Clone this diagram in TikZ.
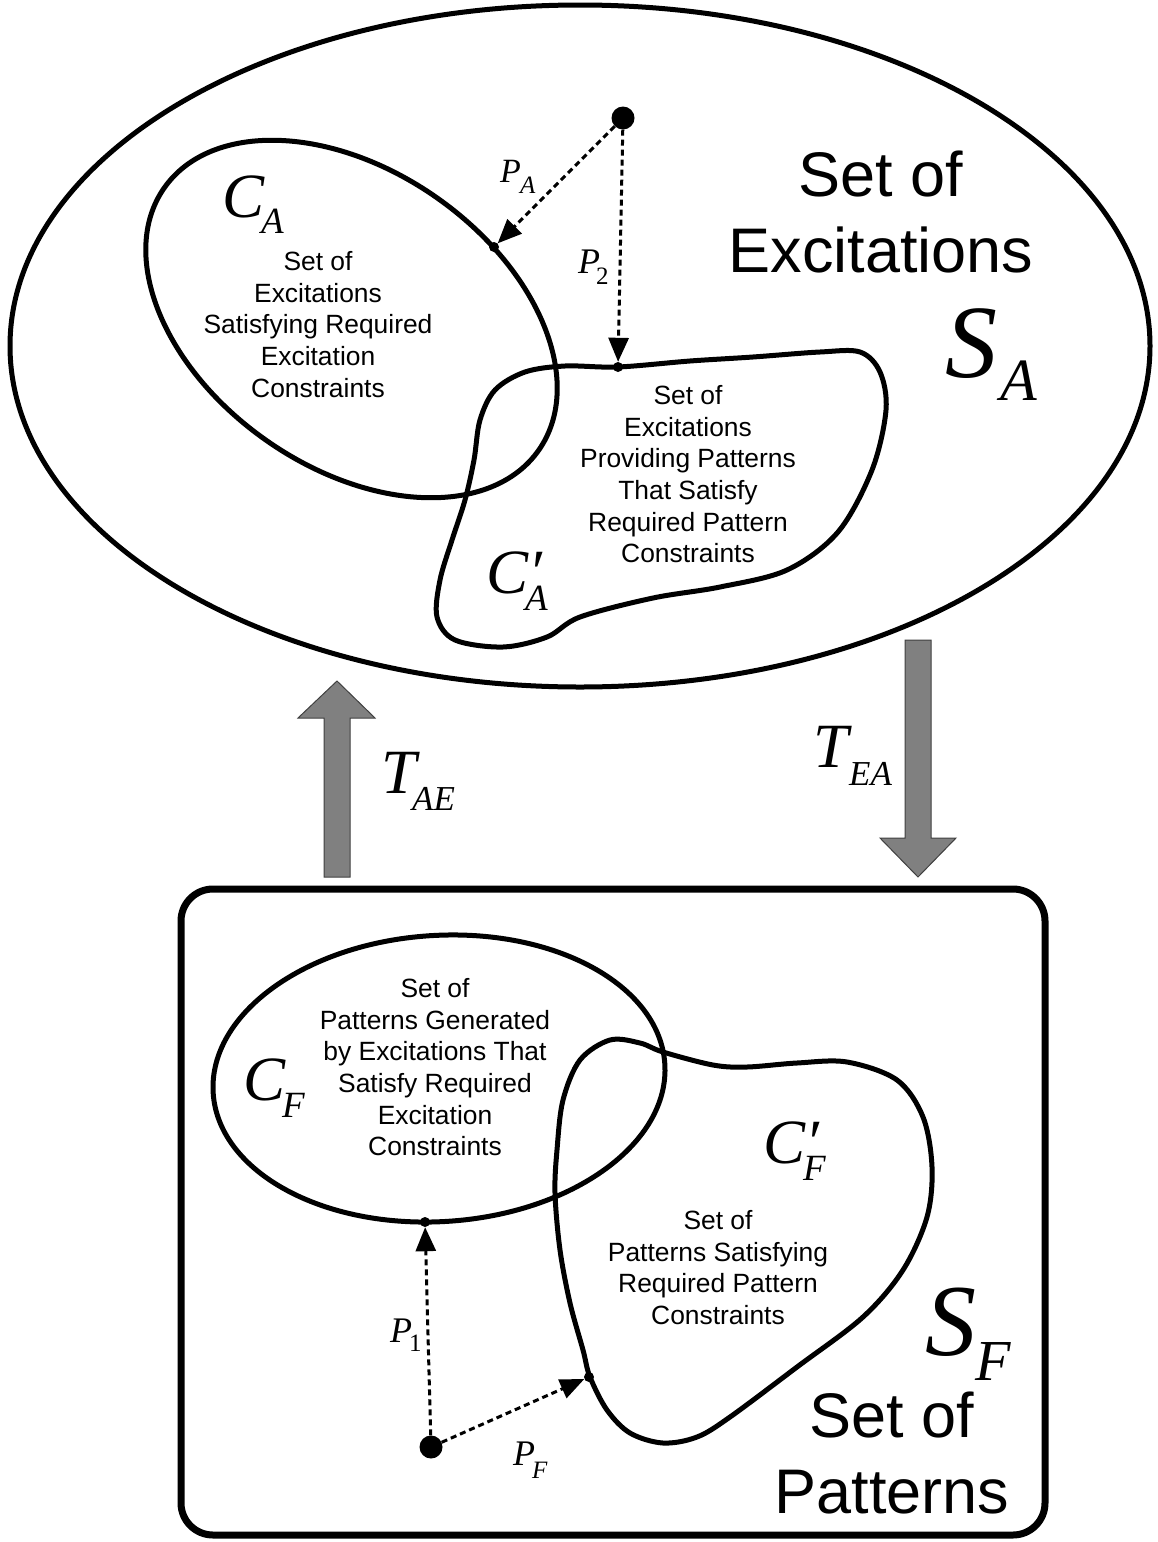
\documentclass[tikz,border=0pt]{standalone}
\usepackage{fontspec}
\setmainfont{Liberation Sans}
\newfontfamily\tnr{Liberation Serif}
\usetikzlibrary{arrows.meta}
\definecolor{blockgray}{HTML}{808080}
\definecolor{blockedge}{HTML}{404040}
\begin{document}
\begin{tikzpicture}[x=1pt,y=-1pt,
  curve/.style={line width=5pt, line join=round},
  settext/.style={align=center, inner sep=0pt, anchor=north, font=\fontsize{26.4}{31.7}\selectfont},
  bigtext/.style={align=center, inner sep=0pt, anchor=north, font=\fontsize{63}{76}\selectfont},
  sym/.style={anchor=base west, inner sep=0pt, font=\tnr\itshape\fontsize{#1}{#1}\selectfont},
  symup/.style={anchor=base west, inner sep=0pt, font=\tnr\fontsize{#1}{#1}\selectfont},
  bigdot/.style={circle, fill=black, inner sep=0pt, minimum size=23pt},
  hitdot/.style={circle, fill=black, inner sep=0pt, minimum size=10pt},
  pathline/.style={line width=3pt, dash pattern=on 6pt off 4pt, -{Triangle[length=24pt,width=20pt]}},
  blockarrow/.style={fill=blockgray, draw=blockedge, line width=1pt, line join=miter}
]
\useasboundingbox (0,0) rectangle (1158,1542);

% ---------- top: set of excitations ----------
\draw[curve] (580,346) ellipse [x radius=570, y radius=341];
\draw[curve, rotate around={-35:(351.5,319)}] (351.5,319) ellipse [x radius=228.6, y radius=148.3];
\draw[curve] plot[smooth cycle, tension=0.55] coordinates {
  (618,367) (690,361) (753,357) (820,352) (860,352) (880,372) (886,410)
  (872,470) (838,532) (787,570) (720,587) (653,598) (580,617) (547,637)
  (503,647) (455,640) (437,617) (440,580) (452,540) (465,500) (474,460)
  (480,420) (495,390) (525,372) (565,366)};

\node[bigtext] (tSA) at (881,151) {Set of\\Excitations};
\node[settext] (tCA) at (318,251) {Set of\\Excitations\\Satisfying Required\\Excitation\\Constraints};
\node[settext] (tCAp) at (688,385) {Set of\\Excitations\\Providing Patterns\\That Satisfy\\Required Pattern\\Constraints};

\node[sym=63] (CA) at (222,217) {C};
\node[sym=37] (CAs) at (261,233) {A};
\node[sym=63] (CAp) at (486,593) {C′};
\node[sym=37] (CAps) at (525,610) {A};
\node[sym=104] (SA) at (945,377) {S};
\node[sym=60] (SAs) at (1000,400) {A};

\node[bigdot] (dA) at (623,118) {};
\node[hitdot] (hA) at (494,247) {};
\node[hitdot] (h2) at (618,367) {};
\draw[pathline] (dA) -- (hA);
\draw[pathline] (dA) -- (h2);
\node[sym=34] (PA) at (500,182) {P};
\node[sym=25] (PAs) at (520,193) {A};
\node[sym=36] (P2) at (578,273) {P};
\node[symup=25] (P2s) at (596,284) {2};

% ---------- transformation arrows ----------
\coordinate (upTip) at (337,681);
\coordinate (dnTip) at (918,877);
\filldraw[blockarrow] (324,877) -- (324,718) -- (298,718) -- (upTip) -- (375,718) -- (350,718) -- (350,877) -- cycle;
\filldraw[blockarrow] (905,640) -- (905,838) -- (880,838) -- (dnTip) -- (956,838) -- (931,838) -- (931,640) -- cycle;
\node[sym=63] (TAE) at (381,793) {T};
\node[sym=35] (TAEs) at (412,810) {AE};
\node[sym=63] (TEA) at (813,767) {T};
\node[sym=35] (TEAs) at (849,785) {EA};

% ---------- bottom: set of patterns ----------
\draw[line width=7pt, rounded corners=32pt] (181,889) rectangle (1045,1535);
\draw[curve, rotate around={3.7:(439,1078.5)}] (439,1078.5) ellipse [x radius=226.3, y radius=143.1];
\draw[curve] plot[smooth cycle, tension=0.55] coordinates {
  (610,1040) (640,1043) (663,1052) (713,1065) (747,1067) (797,1063)
  (847,1062) (897,1080) (923,1117) (932,1167) (927,1217) (903,1270)
  (863,1317) (797,1367) (730,1417) (697,1437) (663,1443) (630,1433)
  (607,1410) (590,1377) (583,1350) (570,1303) (560,1250) (555,1193)
  (557,1150) (563,1100) (580,1060)};

\node[settext] (tCF) at (435,978) {Set of\\Patterns Generated\\by Excitations That\\Satisfy Required\\Excitation\\Constraints};
\node[settext] (tCFp) at (718,1210) {Set of\\Patterns Satisfying\\Required Pattern\\Constraints};
\node[bigtext] (tSF) at (892,1392) {Set of\\Patterns};

\node[sym=63] (CF) at (243,1100) {C};
\node[sym=37] (CFs) at (282,1117) {F};
\node[sym=63] (CFp) at (763,1163) {C′};
\node[sym=37] (CFps) at (803,1180) {F};
\node[sym=102] (SF) at (925,1355) {S};
\node[sym=58] (SFs) at (975,1380) {F};

\node[bigdot] (dF) at (431,1447) {};
\node[hitdot] (h1) at (425,1222) {};
\node[hitdot] (hF) at (589,1377) {};
\draw[pathline] (dF) -- (h1);
\draw[pathline] (dF) -- (hF);
\node[sym=36] (P1) at (390,1342) {P};
\node[symup=25] (P1s) at (409,1351) {1};
\node[sym=36] (PF) at (513,1465) {P};
\node[sym=25] (PFs) at (532,1478) {F};
\end{tikzpicture}
\end{document}
